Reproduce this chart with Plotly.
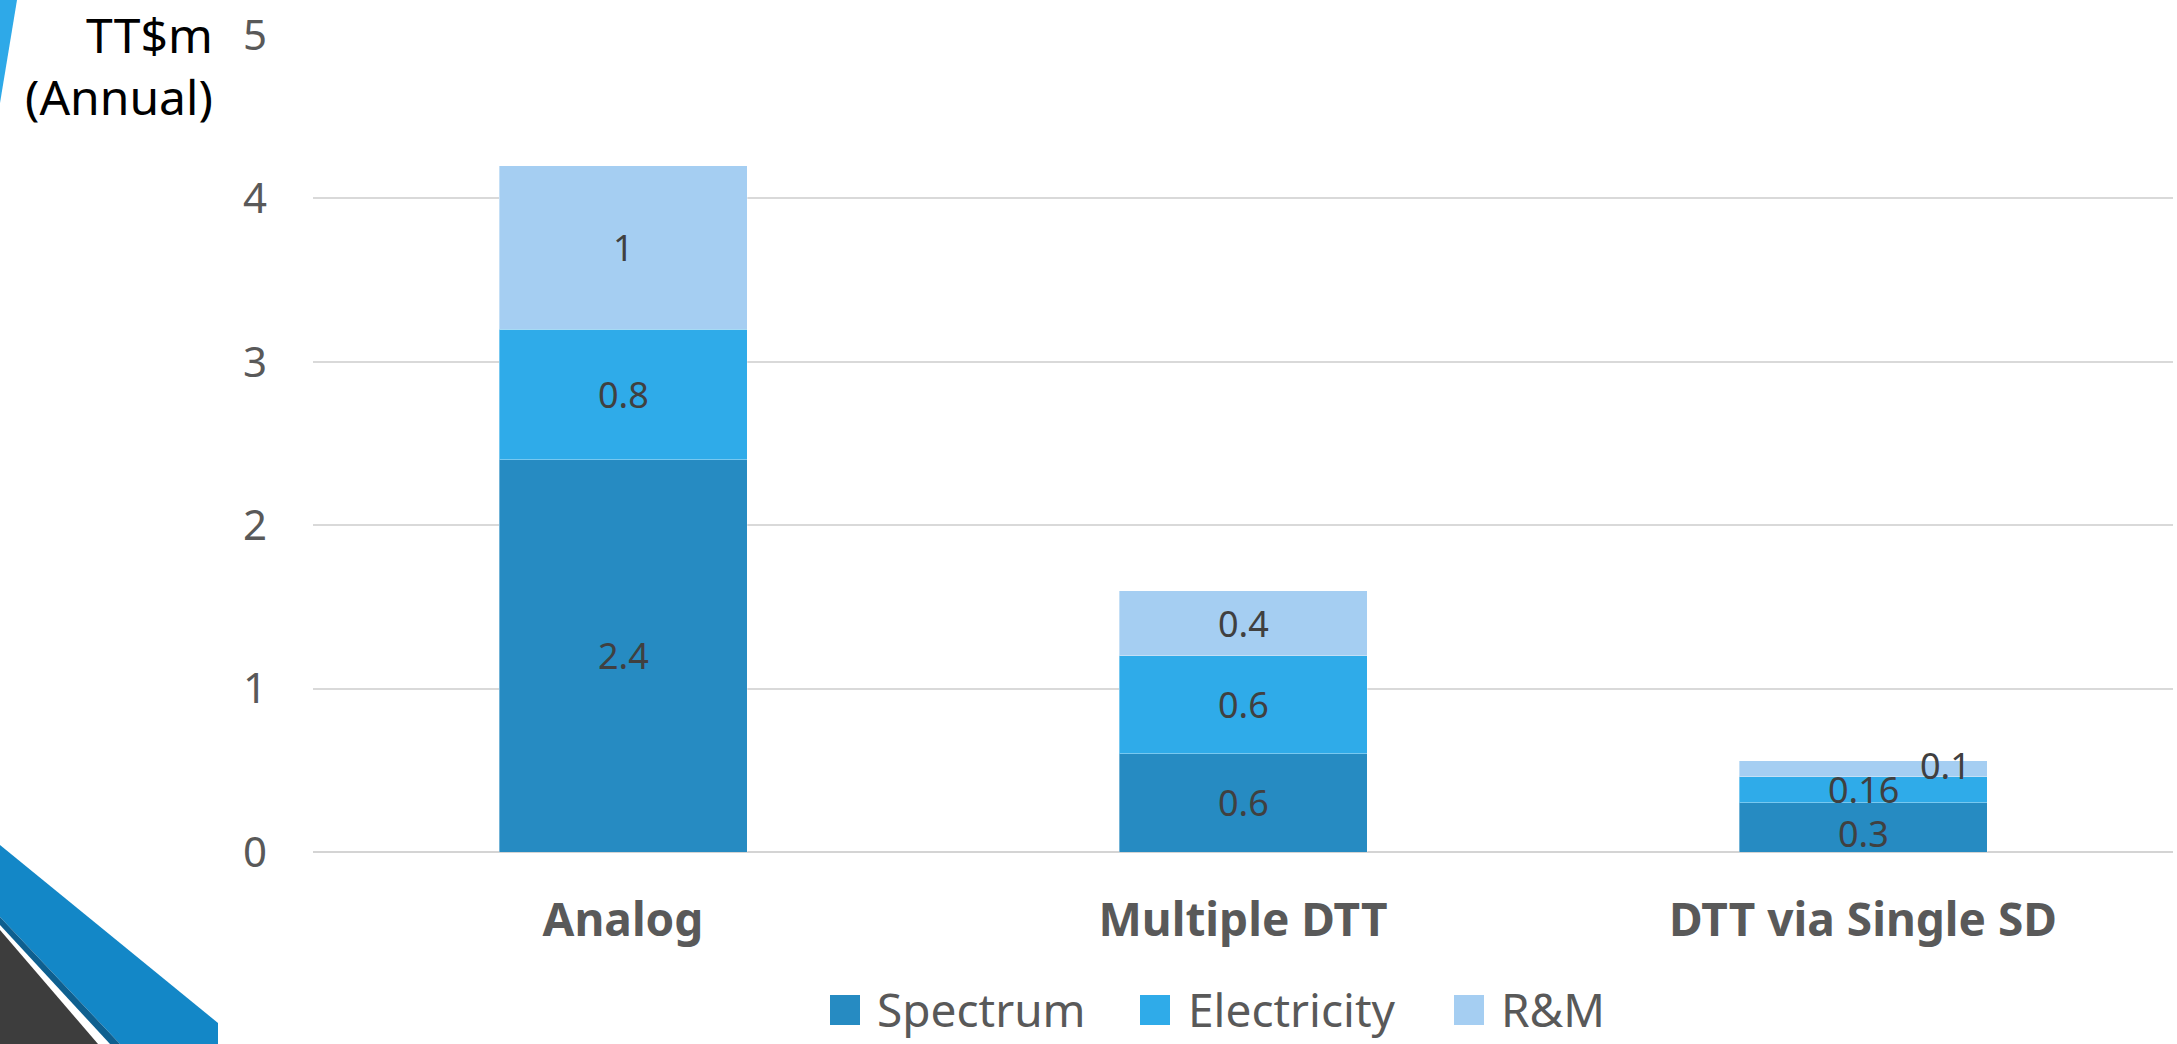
import plotly.graph_objects as go

# ---- data -------------------------------------------------------------
categories = ["Analog", "Multiple DTT", "DTT via Single SD"]
spectrum = [2.4, 0.6, 0.3]
electricity = [0.8, 0.6, 0.16]
rm = [1.0, 0.4, 0.1]
series_names = ["Spectrum", "Electricity", "R&M"]
y_ticks = [0, 1, 2, 3, 4, 5]

# ---- styling ----------------------------------------------------------
W, H = 2177, 1044
PL, PR, PT, PB = 313, 2173, 35, 852          # plot-area pixel box
colors = ["#268BC2", "#2FABE9", "#A5CEF2"]
FONT = "Noto Sans"
GREY = "#595959"
LABEL = "#404040"


def px(x):
    return (x - PL) / (PR - PL)


def py(y):
    return (PB - y) / (PB - PT)


fig = go.Figure()
series = [spectrum, electricity, rm]
for name, vals, col in zip(series_names, series, colors):
    fig.add_trace(go.Bar(
        x=categories, y=vals, name=name,
        marker=dict(color=col, line=dict(width=1, color="rgba(255,255,255,0.35)")),
        width=0.4, showlegend=False, hoverinfo="x+y+name",
    ))

# value labels centred on each stacked segment; the crowded ones on the
# small third bar are nudged apart
annotations = []
base = [0.0] * len(categories)
label_xshift = {(2, 2): 82}
label_yshift = {(0, 2): -6, (2, 2): 3}
for si, vals in enumerate(series):
    for ci, v in enumerate(vals):
        annotations.append(dict(
            x=categories[ci], y=base[ci] + v / 2, xref="x", yref="y",
            text=f"{v:g}", showarrow=False,
            xshift=label_xshift.get((si, ci), 0),
            yshift=label_yshift.get((si, ci), 0),
            font=dict(family=FONT, size=36, color=LABEL),
        ))
        base[ci] += v

# axis caption
annotations.append(dict(
    x=px(215), y=py(0), xref="paper", yref="paper",
    xanchor="right", yanchor="top", align="right",
    text="TT$m<br>(Annual)", showarrow=False,
    font=dict(family=FONT, size=48, color="#000000"),
))

# legend (squares + names)
shapes = []
legend_sq = [830, 1140, 1454]
legend_tx = [875, 1186, 1499]
for name, col, sx, tx in zip(series_names, colors, legend_sq, legend_tx):
    shapes.append(dict(type="rect", xref="paper", yref="paper",
                       x0=px(sx), x1=px(sx + 30), y0=py(1025), y1=py(995),
                       fillcolor=col, line=dict(width=0)))
    annotations.append(dict(
        x=px(tx), y=py(1009), xref="paper", yref="paper",
        xanchor="left", yanchor="middle", text=name, showarrow=False,
        font=dict(family=FONT, size=46, color=GREY),
    ))


def poly(points):
    d = "M " + " L ".join(f"{px(a)},{py(b)}" for a, b in points) + " Z"
    return d


# slide decorations in the corners
shapes += [
    dict(type="path", xref="paper", yref="paper", layer="below",
         path=poly([(0, 0), (17, 0), (0, 103)]),
         fillcolor="#2EA9E8", line=dict(width=0)),
    dict(type="path", xref="paper", yref="paper", layer="below",
         path=poly([(0, 845), (218, 1023), (218, 1044), (120, 1044), (0, 917)]),
         fillcolor="#1387C7", line=dict(width=0)),
    dict(type="path", xref="paper", yref="paper", layer="below",
         path=poly([(0, 917), (120, 1044), (110, 1044), (0, 925)]),
         fillcolor="#0E5F8F", line=dict(width=0)),
    dict(type="path", xref="paper", yref="paper", layer="below",
         path=poly([(0, 930), (98, 1044), (0, 1044)]),
         fillcolor="#3D3D3D", line=dict(width=0)),
]

fig.update_layout(
    width=W, height=H,
    barmode="stack",
    margin=dict(l=PL, r=W - PR, t=PT, b=H - PB, pad=0),
    paper_bgcolor="white", plot_bgcolor="white",
    showlegend=False,
    annotations=annotations,
    shapes=shapes,
    xaxis=dict(
        range=[-0.5, 2.5], showgrid=False, showline=False, zeroline=False,
        ticks="", ticklabelstandoff=37,
        tickfont=dict(family=FONT, size=46, color=GREY, weight="bold"),
    ),
    yaxis=dict(
        range=[0, 5], tickvals=y_ticks, showgrid=True,
        gridcolor="#D9D9D9", gridwidth=2,
        zeroline=True, zerolinecolor="#D4D4D4", zerolinewidth=2,
        showline=False, ticks="", ticklabelstandoff=45,
        tickfont=dict(family=FONT, size=42, color=GREY),
    ),
)

fig.write_html("out.html")
